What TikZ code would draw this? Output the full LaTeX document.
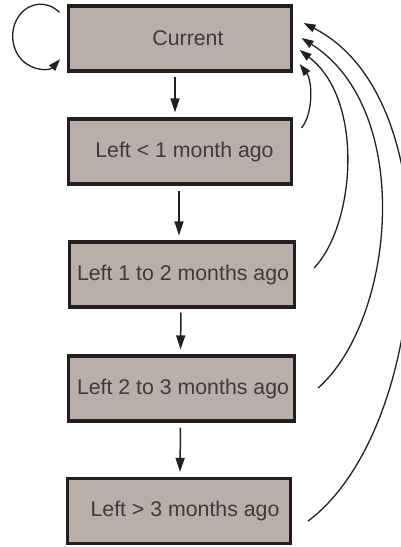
\documentclass[tikz,border=0pt]{standalone}
\usepackage{fontspec}
\setmainfont{Liberation Sans}
\usetikzlibrary{arrows.meta}
\definecolor{boxfill}{RGB}{185,174,170}
\definecolor{boxline}{RGB}{35,31,32}
\definecolor{txt}{RGB}{60,60,60}
\tikzset{
  state/.style={draw=boxline, line width=3.2pt, fill=boxfill, text=txt,
    minimum width=223pt, minimum height=65pt, inner sep=0pt,
    font=\fontsize{21.3}{25}\selectfont},
  conn/.style={draw=boxline, line width=1.5pt, -{Triangle[length=14pt,width=9pt]}},
  back/.style={draw=boxline, line width=1.3pt, -{Triangle[length=12pt,width=8pt]}}
}
\begin{document}
\begin{tikzpicture}[x=1pt,y=-1pt]
\useasboundingbox (0,0) rectangle (401,547);
\node[state] (b1) at (180,38.5) {\hspace*{16pt}Current};
\node[state] (b2) at (180,151.5) {\hspace*{9pt}Left < 1 month ago};
\node[state, minimum width=225pt] (b3) at (182,274.5) {\hspace*{2pt}Left 1 to 2 months ago};
\node[state, minimum width=226pt] (b4) at (181.5,388.5) {\hspace*{3pt}Left 2 to 3 months ago};
\node[state] (b5) at (179,511) {\hspace*{12pt}Left > 3 months ago};
% downward arrows
\draw[conn] ([shift={(-5,4)}]b1.south) -- ([shift={(-5,-5)}]b2.north);
\draw[conn] ([shift={(-1,5)}]b2.south) -- ([shift={(-3,-5)}]b3.north);
\draw[conn] ([shift={(-1,4)}]b3.south) -- ([shift={(-1,-5)}]b4.north);
\draw[conn] ([shift={(-1,5)}]b4.south) -- ([shift={(1,-5)}]b5.north);
% self loop
\draw[back] ([shift={(-7.5,8)}]b1.north west) arc[start angle=-48, end angle=-314, x radius=28, y radius=32];
% return arrows
\draw[back] ([shift={(8.5,-23.5)}]b2.east) .. controls (314,112) and (312,80) .. ([shift={(6.5,25.5)}]b1.east);
\draw[back] ([shift={(18,-6.5)}]b3.east) .. controls (355,225) and (365,100) .. ([shift={(6.5,11.5)}]b1.east);
\draw[back] ([shift={(22,-0.5)}]b4.east) .. controls (395,320) and (415,110) .. ([shift={(8.5,-0.5)}]b1.east);
\draw[back] ([shift={(16,10)}]b5.east) .. controls (430,430) and (455,100) .. ([shift={(10.5,-15.5)}]b1.east);
\end{tikzpicture}
\end{document}
